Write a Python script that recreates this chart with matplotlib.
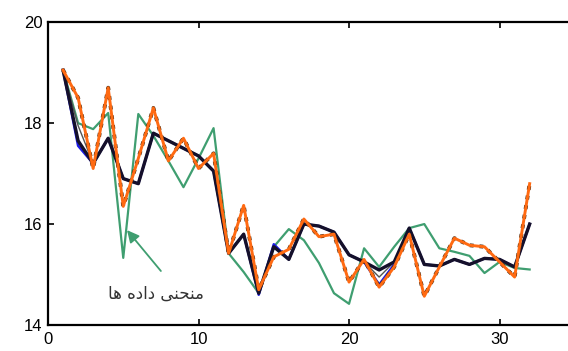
import matplotlib
matplotlib.use('Agg')
import matplotlib.pyplot as plt
import numpy as np

# one value per sample, samples numbered from 1
samples = np.arange(1, 33)
orange = [19.05, 18.5, 17.1, 18.7, 16.35, 17.3, 18.3, 17.25, 17.7, 17.1, 17.4, 15.42,
          16.37, 14.7, 15.35, 15.5, 16.1, 15.75, 15.8, 14.85, 15.3, 14.75, 15.15, 15.8,
          14.57, 15.15, 15.72, 15.58, 15.55, 15.25, 14.95, 16.8]
black = [19.05, 17.65, 17.2, 17.7, 16.9, 16.8, 17.8, 17.65, 17.5, 17.35, 17.05, 15.42,
         15.8, 14.63, 15.55, 15.3, 16.0, 15.96, 15.84, 15.39, 15.25, 15.09, 15.25, 15.92,
         15.2, 15.17, 15.3, 15.2, 15.32, 15.3, 15.15, 16.0]
blue = [19.05, 17.55, 17.2, 17.7, 16.9, 16.8, 17.8, 17.65, 17.5, 17.35, 17.05, 15.42,
        15.8, 14.6, 15.6, 15.3, 16.0, 15.96, 15.84, 15.39, 15.25, 14.8, 15.2, 15.92,
        15.2, 15.17, 15.3, 15.2, 15.32, 15.3, 15.15, 16.0]
gray = [19.05, 17.95, 17.2, 17.7, 16.9, 16.8, 17.8, 17.65, 17.5, 17.35, 17.05, 15.42,
        15.8, 14.63, 15.55, 15.3, 16.0, 15.96, 15.84, 15.39, 15.25, 14.95, 15.25, 15.92,
        15.2, 15.17, 15.3, 15.2, 15.32, 15.3, 15.15, 16.0]
green = [19.05, 18.0, 17.88, 18.2, 15.33, 18.18, 17.75, 17.25, 16.73, 17.3, 17.9, 15.42,
         15.05, 14.63, 15.55, 15.9, 15.68, 15.23, 14.63, 14.42, 15.52, 15.15, 15.55, 15.92,
         16.0, 15.52, 15.45, 15.37, 15.03, 15.25, 15.13, 15.1]
xticks = [0, 10, 20, 30]
yticks = [14, 16, 18, 20]
# "منحنی داده ها" written in joined presentation forms, left to right
label = '\uFE8E\uFEEB \uFEE9\uFEA9\uFE8D\uFEA9 \uFBFD\uFEE8\uFEA4\uFEE8\uFEE3'

plt.rcParams['font.family'] = ['Liberation Sans', 'DejaVu Sans']

fig = plt.figure(figsize=(5.68, 3.51), dpi=100)
ax = fig.add_axes([0.0845, 0.074, 1.06, 0.863])

ax.plot(samples, green, color='#3f9e70', lw=1.6, zorder=2)
ax.plot(samples, blue, color='#1a1ae6', lw=1.8, zorder=3)
ax.plot(samples, gray, color='#555555', lw=1.0, zorder=3)
ax.plot(samples, black, color='#15102a', lw=2.4, zorder=4)
ax.plot(samples, orange, color='#4a2a10', lw=2.8, ls=(0, (1, 1.5)), zorder=5)
ax.plot(samples, orange, color='#ff6a12', lw=2.1, zorder=6)

# label and the arrow pointing at the curves
ax.text(7.2, 14.63, label, ha='center', va='center', fontsize=12,
        color='#333333', family=['DejaVu Sans'])
ax.annotate('', xy=(5.25, 15.88), xytext=(7.5, 15.07),
            arrowprops=dict(arrowstyle='-|>', color='#3f9e70', lw=1.3,
                            mutation_scale=18, shrinkA=0, shrinkB=0))

ax.set_xlim(0, 40)
ax.set_ylim(14, 20)
ax.set_xticks(xticks)
ax.set_yticks(yticks)
ax.tick_params(direction='in', length=4, width=1.2, labelsize=12, pad=5,
               top=True, right=True)
ax.tick_params(axis='y', pad=4)
for s in ax.spines.values():
    s.set_linewidth(1.6)

fig.savefig('out.png', dpi=100)
